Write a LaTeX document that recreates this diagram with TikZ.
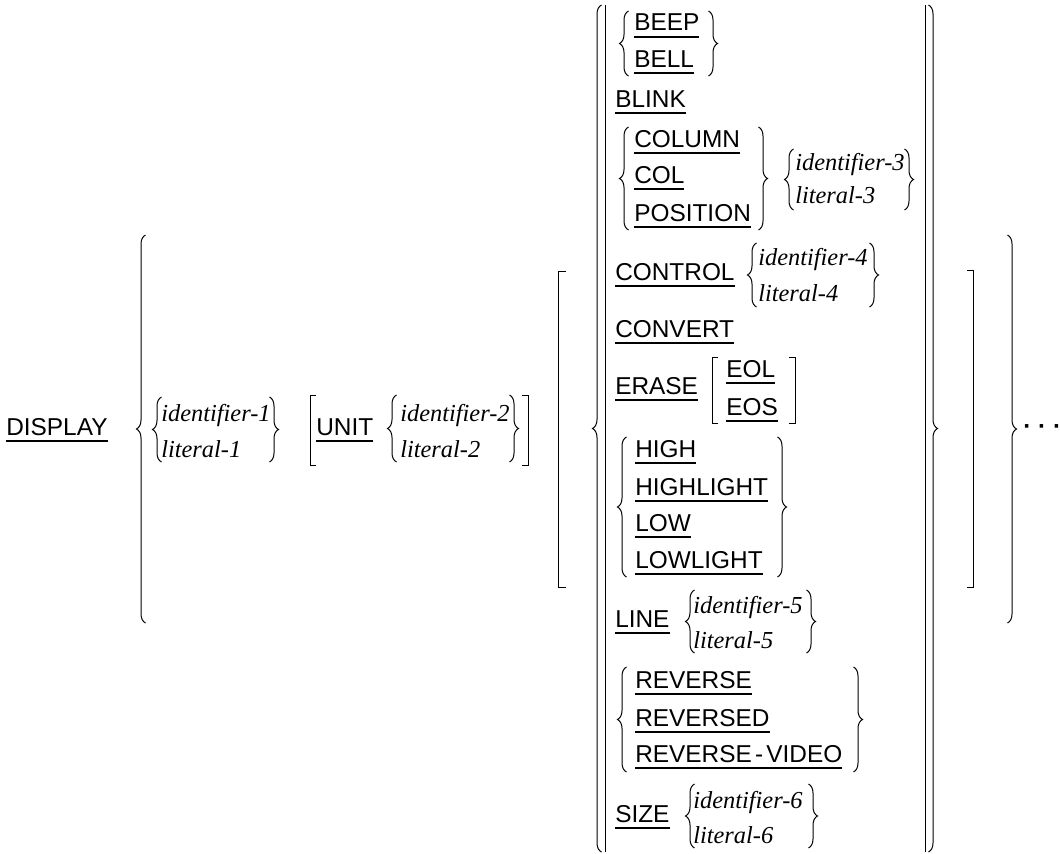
\documentclass[tikz,border=0pt]{standalone}
\usepackage{fontspec}
\usetikzlibrary{decorations.pathreplacing}
\newfontfamily\kwfont{Liberation Sans}
\newfontfamily\varfont{Liberation Serif}
\newsavebox\ulbox
\newcommand\ukw[1]{\sbox\ulbox{#1}\rlap{\rule[-5.1pt]{\wd\ulbox}{1.1pt}}\usebox\ulbox}

\tikzset{
  kw/.style={font=\kwfont\fontsize{18.3}{20}\selectfont, anchor=base west, inner sep=0pt},
  var/.style={font=\varfont\itshape\fontsize{18.3}{20}\selectfont, anchor=base west, inner sep=0pt},
  brc/.style={decorate, decoration={brace, amplitude=6.75pt}, line width=0.75pt},
  sqb/.style={line width=0.75pt}
}

\begin{document}
\begin{tikzpicture}[x=0.75pt, y=-0.75pt]
        \useasboundingbox (0,0) rectangle (1060,853);

        % keywords and operands
        \node[kw] (display) at (6,435) {\ukw{DISPLAY}};
        \node[var] (id1) at (161,421) {identifier-1};
        \node[var] (lit1) at (161,457) {literal-1};
        \node[kw] (unit) at (316,435) {\ukw{UNIT}};
        \node[var] (id2) at (400,421) {identifier-2};
        \node[var] (lit2) at (400,457) {literal-2};

        \node[kw] (beep) at (634,31) {\ukw{BEEP}};
        \node[kw] (bell) at (634,67) {\ukw{BELL}};
        \node[kw] (blink) at (615,107) {\ukw{BLINK}};
        \node[kw] (column) at (634,147) {\ukw{COLUMN}};
        \node[kw] (col) at (634,183) {\ukw{COL}};
        \node[kw] (position) at (634,221) {\ukw{POSITION}};
        \node[var] (id3) at (795,170) {identifier-3};
        \node[var] (lit3) at (795,203) {literal-3};
        \node[kw] (control) at (615,280) {\ukw{CONTROL}};
        \node[var] (id4) at (758,265) {identifier-4};
        \node[var] (lit4) at (758,301) {literal-4};
        \node[kw] (convert) at (615,337) {\ukw{CONVERT}};
        \node[kw] (erase) at (615,394) {\ukw{ERASE}};
        \node[kw] (eol) at (726,377) {\ukw{EOL}};
        \node[kw] (eos) at (726,415) {\ukw{EOS}};
        \node[kw] (high) at (635,457) {\ukw{HIGH}};
        \node[kw] (highlight) at (635,495) {\ukw{HIGHLIGHT}};
        \node[kw] (low) at (635,531) {\ukw{LOW}};
        \node[kw] (lowlight) at (635,568) {\ukw{LOWLIGHT}};
        \node[kw] (line) at (615,627) {\ukw{LINE}};
        \node[var] (id5) at (693,613) {identifier-5};
        \node[var] (lit5) at (693,648) {literal-5};
        \node[kw] (reverse) at (635,688) {\ukw{REVERSE}};
        \node[kw] (reversed) at (635,726) {\ukw{REVERSED}};
        \node[kw] (revvideo) at (635,762) {\ukw{REVERSE\kern2.4pt-\kern2.4pt VIDEO}};
        \node[kw] (size) at (615,822) {\ukw{SIZE}};
        \node[var] (id6) at (693,808) {identifier-6};
        \node[var] (lit6) at (693,843) {literal-6};
        \node[kw] (dots) at (1023,434) {\bfseries\textperiodcentered\ \textperiodcentered\ \textperiodcentered};

        % braces
        \draw[brc] (145.5,623) -- (145.5,235);
        \draw[brc] (161.5,462) -- (161.5,397);
        \draw[brc] (269.5,397) -- (269.5,462);
        \draw[brc] (396.5,462) -- (396.5,395);
        \draw[brc] (509.5,395) -- (509.5,462);
        \draw[brc] (601.5,852) -- (601.5,5);
        \draw[sqb] (605,5) -- (605,852);
        \draw[brc] (628.5,76) -- (628.5,11);
        \draw[brc] (708.5,11) -- (708.5,76);
        \draw[brc] (628.5,230) -- (628.5,127);
        \draw[brc] (758.5,127) -- (758.5,230);
        \draw[brc] (793.5,210) -- (793.5,149);
        \draw[brc] (904.5,149) -- (904.5,210);
        \draw[brc] (756.5,307) -- (756.5,243);
        \draw[brc] (869.5,243) -- (869.5,307);
        \draw[brc] (626.5,577) -- (626.5,437);
        \draw[brc] (777.5,437) -- (777.5,577);
        \draw[brc] (694.5,653) -- (694.5,590);
        \draw[brc] (806.5,590) -- (806.5,653);
        \draw[brc] (626.5,772) -- (626.5,667);
        \draw[brc] (853.5,667) -- (853.5,772);
        \draw[brc] (694.5,848) -- (694.5,784);
        \draw[brc] (808.5,784) -- (808.5,848);
        \draw[sqb] (925,5) -- (925,852);
        \draw[brc] (928.5,5) -- (928.5,852);
        \draw[brc] (1007.5,235) -- (1007.5,623);

        % brackets
        \draw[sqb] (316,395) -- (310,395) -- (310,465) -- (316,465);
        \draw[sqb] (522,395) -- (528,395) -- (528,465) -- (522,465);
        \draw[sqb] (566,271) -- (558,271) -- (558,587) -- (566,587);
        \draw[sqb] (718,357) -- (712,357) -- (712,423) -- (718,423);
        \draw[sqb] (789,357) -- (795,357) -- (795,423) -- (789,423);
        \draw[sqb] (967,270) -- (973,270) -- (973,587) -- (967,587);
    \end{tikzpicture}
\end{document}
